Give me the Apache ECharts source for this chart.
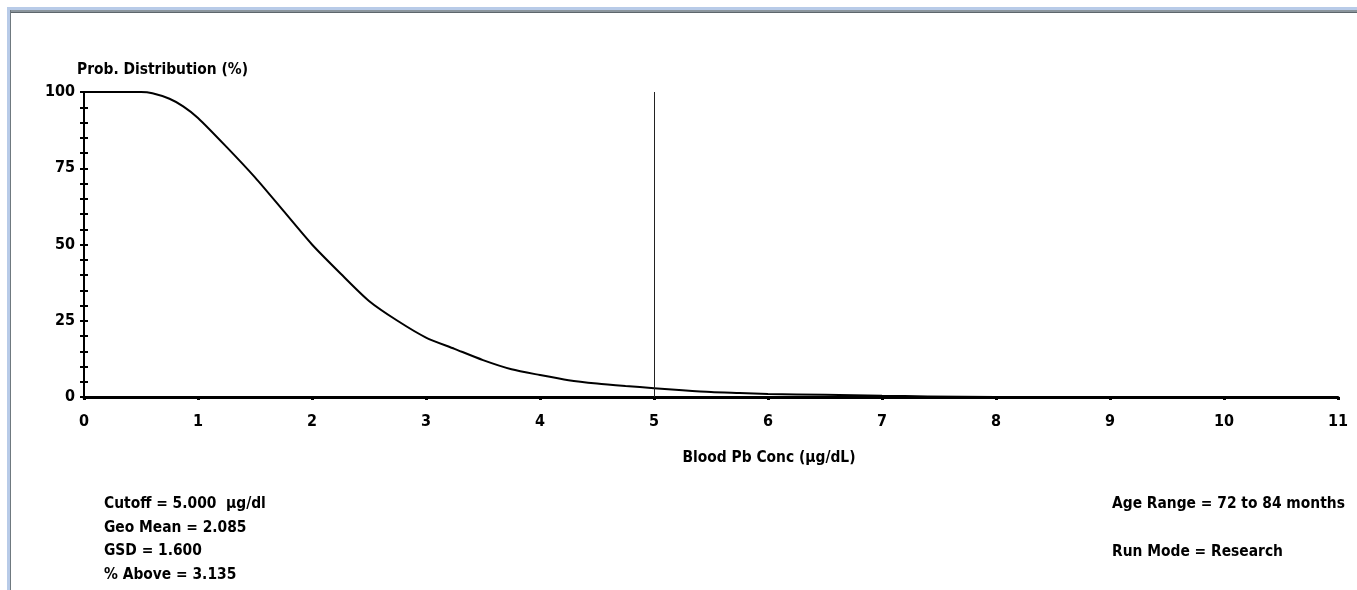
<!DOCTYPE html>
<html>
<head>
<meta charset="utf-8">
<title>Blood Pb probability distribution</title>
<script src="https://cdn.jsdelivr.net/npm/echarts@6/dist/echarts.min.js"></script>
<style>
  html, body { margin: 0; padding: 0; background: #fff; }
  #chart { width: 1357px; height: 590px; }
</style>
</head>
<body>
<div id="chart"></div>
<script>
// values
const concX = [0, 0.25, 0.5, 0.6, 0.75, 0.87, 1, 1.25, 1.5, 1.75, 2, 2.25, 2.5, 2.75, 3, 3.25, 3.5, 3.75, 4, 4.25, 4.5, 4.75, 5, 5.25, 5.5, 5.75, 6, 6.5, 7, 7.4, 8, 9, 10, 11];
const probY = [100, 100, 100, 99.6, 97.8, 95.3, 91.5, 82, 72, 61, 50, 40.5, 31.5, 25, 19.5, 15.8, 12.1, 9.1, 7.2, 5.5, 4.4, 3.6, 2.9, 2.2, 1.6, 1.3, 1.0, 0.7, 0.4, 0.2, 0, 0, 0, 0];
const cutoff = 5;
const leftNotes = ['Cutoff = 5.000  µg/dl', 'Geo Mean = 2.085', 'GSD = 1.600', '% Above = 3.135'];
const rightNotes = ['Age Range = 72 to 84 months', '', 'Run Mode = Research'];

const FONT = "'Liberation Sans Narrow', 'DejaVu Sans Condensed', 'Liberation Sans', sans-serif";

(function () {
    let myChart = echarts.init(document.getElementById('chart'));

    const note = (x, y, text, align) => ({
        type: 'text', x: x, y: y,
        style: {
            text: text, fill: '#000',
            font: 'bold 15.4px ' + FONT,
            textAlign: align || 'left', textVerticalAlign: 'middle'
        }
    });

    let graphics = [
        // window frame
        { type: 'rect', shape: { x: 7, y: 7, width: 1350, height: 3 }, style: { fill: '#b8cbe8' } },
        { type: 'rect', shape: { x: 7, y: 7, width: 3, height: 583 }, style: { fill: '#b8cbe8' } },
        { type: 'rect', shape: { x: 10, y: 10, width: 1347, height: 2 }, style: { fill: '#8b959c' } },
        { type: 'rect', shape: { x: 10, y: 12, width: 1347, height: 1 }, style: { fill: '#5d666c' } },
        { type: 'rect', shape: { x: 10, y: 10, width: 1, height: 580 }, style: { fill: '#6f797f' } }
    ];
    graphics.push(note(77, 70, 'Prob. Distribution (%)'));
    graphics.push(note(769, 458, 'Blood Pb Conc (µg/dL)', 'center'));
    leftNotes.forEach((t, i) => graphics.push(note(104, 504 + i * 23.5, t)));
    rightNotes.forEach((t, i) => { if (t) graphics.push(note(1112, 504 + i * 24, t)); });

    const labelStyle = { color: '#000', fontFamily: FONT, fontWeight: 'bold', fontSize: 16 };

    let option = {
        animation: false,
        backgroundColor: '#fff',
        grid: { left: 84, right: 19, top: 92, bottom: 193, containLabel: false },
        xAxis: {
            type: 'value', min: 0, max: 11, interval: 1,
            axisLine: { lineStyle: { color: '#000', width: 3 } },
            axisTick: { show: true, length: 3, lineStyle: { color: '#000', width: 3 } },
            axisLabel: Object.assign({ margin: 17 }, labelStyle),
            splitLine: { show: false }
        },
        yAxis: [
            {
                type: 'value', min: 0, max: 100, interval: 25, position: 'left',
                axisLine: { show: true, lineStyle: { color: '#000', width: 2 } },
                axisTick: { show: true, length: 4, lineStyle: { color: '#000', width: 2 } },
                minorTick: { show: true, splitNumber: 5, length: 4, lineStyle: { color: '#000', width: 2 } },
                axisLabel: Object.assign({ margin: 9 }, labelStyle),
                splitLine: { show: false }
            },
            {
                // inner half of the crossing ticks
                type: 'value', min: 0, max: 100, interval: 25, position: 'left', offset: 0,
                axisLine: { show: false },
                axisTick: { show: true, inside: true, length: 4, lineStyle: { color: '#000', width: 2 } },
                minorTick: { show: true, splitNumber: 5, length: 4, lineStyle: { color: '#000', width: 2 } },
                axisLabel: { show: false },
                splitLine: { show: false }
            }
        ],
        graphic: graphics,
        series: [
            {
                type: 'line',
                data: concX.map((x, i) => [x, probY[i]]),
                showSymbol: false,
                smooth: 0.25,
                lineStyle: { color: '#000', width: 2 },
                markLine: {
                    silent: true,
                    symbol: 'none',
                    label: { show: false },
                    lineStyle: { color: '#222', width: 1, type: 'solid' },
                    data: [{ xAxis: cutoff }]
                }
            }
        ]
    };

    myChart && myChart.setOption(option);
}());
</script>
</body>
</html>
